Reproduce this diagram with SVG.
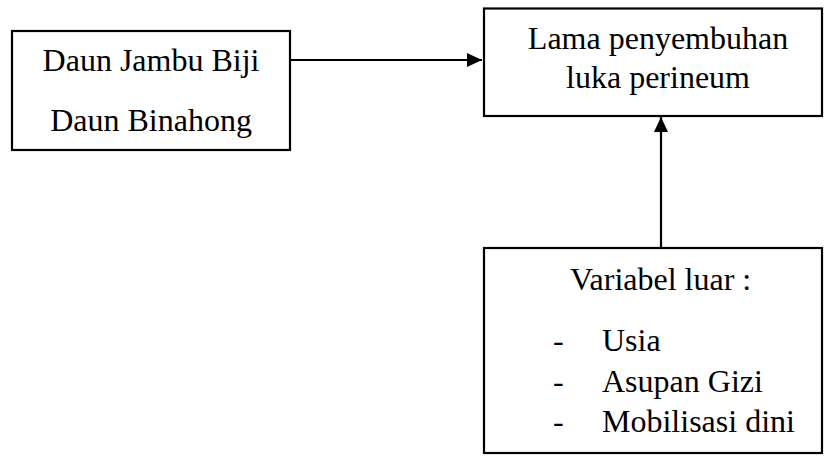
<svg xmlns="http://www.w3.org/2000/svg" width="824" height="456" viewBox="0 0 824 456">
<style>
.box{fill:#fff;stroke:#000;stroke-width:2.2}
.t{font-family:"Liberation Serif","Times New Roman",serif;font-size:32px;fill:#000}
.c{text-anchor:middle}
.ln{stroke:#000;stroke-width:2.2;fill:none}
</style>
<defs>
<marker id="ah" markerWidth="15" markerHeight="14" refX="15" refY="7" orient="auto" markerUnits="userSpaceOnUse">
<path d="M0,0 L15,7 L0,14 Z" fill="#000"/>
</marker>
</defs>
<rect width="824" height="456" fill="#fff"/>
<g id="connectors">
<line class="ln" x1="291" y1="60" x2="482" y2="60" marker-end="url(#ah)"/>
<line class="ln" x1="661" y1="248" x2="661" y2="117" marker-end="url(#ah)"/>
</g>
<g id="node-daun">
<rect class="box" x="12" y="31" width="278" height="119"/>
<text class="t c" x="151" y="71">Daun Jambu Biji</text>
<text class="t c" x="151" y="131">Daun Binahong</text>
</g>
<g id="node-lama">
<rect class="box" x="484" y="8.5" width="338" height="107.5"/>
<text class="t c" x="658" y="49">Lama penyembuhan</text>
<text class="t c" x="658" y="88">luka perineum</text>
</g>
<g id="node-variabel">
<rect class="box" x="484" y="248" width="338" height="205"/>
<text class="t" x="570" y="290">Variabel luar :</text>
<text class="t" x="553" y="351">-</text>
<text class="t" x="602" y="351">Usia</text>
<text class="t" x="553" y="392">-</text>
<text class="t" x="602" y="392">Asupan Gizi</text>
<text class="t" x="553" y="432">-</text>
<text class="t" x="602" y="432">Mobilisasi dini</text>
</g>
</svg>
